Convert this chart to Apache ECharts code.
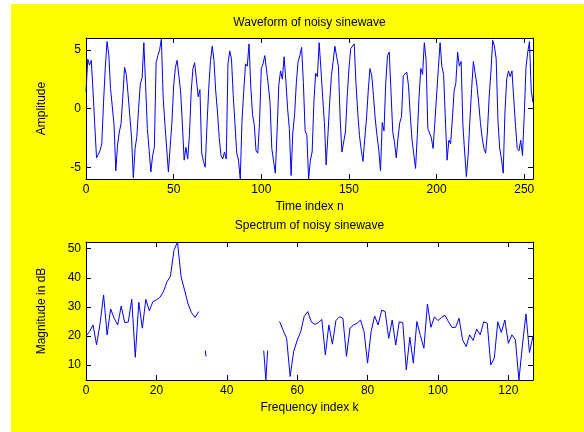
<!DOCTYPE html>
<html>
<head>
<meta charset="utf-8">
<script src="https://cdn.jsdelivr.net/npm/echarts@6/dist/echarts.min.js"></script>
<style>
html, body { margin: 0; padding: 0; background: #fff; }
#main { width: 584px; height: 432px; }
</style>
</head>
<body>
<div id="main"></div>
<script>
// noisy sinewave, one value per sample n = 0..255
var waveform = [
	1.4, 4.2, 3.7, 4.1, 1.5, -1.4, -4.2, -3.9, -3.6, -3.0,
	0.5, 3.5, 5.7, 4.6, 1.7, 1.6, -1.4, -5.3, -3.1, -2.0,
	-1.3, 1.0, 3.5, 2.9, 1.2, 1.2, -2.5, -5.9, -3.4, -2.4,
	0.0, 2.1, 2.6, 5.6, 2.0, -1.7, -3.5, -5.4, -4.0, -3.3,
	3.9, 4.5, 5.0, 5.9, 1.0, -1.3, -1.4, -5.4, -3.3, -1.2,
	1.9, 3.5, 4.1, 4.1, 1.4, -1.4, -4.4, -3.3, -4.3, -2.3,
	1.4, 3.4, 3.9, 3.9, 1.0, 1.6, -3.8, -4.5, -5.0, -1.5,
	1.7, 4.0, 5.3, 4.1, 1.5, -0.3, -2.5, -4.0, -4.3, -3.7,
	-4.3, 3.8, 4.9, 4.2, 1.1, 1.0, -3.8, -4.4, -6.0, -1.0,
	1.5, 3.8, 3.6, 5.5, 1.9, -0.5, -1.4, -3.6, -3.8, -1.2,
	3.4, 3.8, 4.5, 4.4, 2.0, 0.5, -3.4, -4.5, -5.5, -2.0,
	2.0, 3.2, 2.5, 4.4, 2.4, 0.0, -1.7, -5.7, -2.0, -0.5,
	2.2, 4.0, 4.5, 5.2, 2.2, -1.9, -2.3, -6.0, -4.4, -3.7,
	0.5, 3.0, 2.7, 5.6, 3.4, 1.0, -1.2, -4.8, -2.3, 0.5,
	2.8, 4.0, 5.3, 4.4, 3.6, -0.9, -3.7, -3.8, -2.0, 1.0,
	3.4, 5.1, 5.2, 5.5, 2.2, -0.3, -2.3, -3.5, -4.5, -2.6,
	-0.9, 1.5, 3.4, 2.8, 1.1, -0.9, -2.3, -3.5, -5.3, -1.2,
	-1.9, 2.2, 4.5, 4.8, 1.4, -2.0, -2.9, -4.2, -2.5, -1.2,
	-0.7, 2.8, 2.9, 3.1, 1.9, -0.6, -2.7, -2.7, -5.1, -2.3,
	1.0, 3.4, 2.9, 5.6, 4.2, -1.7, -1.7, -2.5, -3.4, -1.2,
	-1.1, 3.4, 5.6, 3.6, 2.9, -0.9, -4.4, -2.7, -3.0, -0.9,
	1.5, 2.2, 4.8, 3.6, 4.0, -1.4, -3.7, -5.8, -4.0, -1.0,
	1.7, 4.0, 3.0, 2.0, 0.5, -1.2, -2.5, -3.4, -3.8, -2.0,
	1.0, 3.1, 5.8, 5.3, 4.2, -1.0, -3.4, -4.3, -5.5, -0.3,
	2.5, 3.2, 2.7, 3.2, 3.1, -1.4, -3.4, -3.6, -2.7, -4.0,
	-0.6, 3.5, 4.8, 5.7, 1.5, 0.5
];

// spectrum magnitude (dB), k = 0..127, null where nothing is drawn
var magnitudeDb = [
	20.0, 21.5, 23.8, 17.0, 24.4, 34.1, 20.4, 29.3, 26.1, 23.8,
	30.3, 24.6, 24.8, 32.6, 12.7, 31.6, 22.7, 32.6, 28.7, 31.8,
	32.4, 33.3, 35.2, 38.6, 40.6, 49.5, 52.3, 40.4, 35.8, 31.0,
	28.0, 26.4, 28.4, null, null, null, null, null, null, null,
	null, null, null, null, null, null, null, null, null, null,
	null, null, null, null, null, 25.0, 22.0, 19.2, 6.1, 14.7,
	18.5, 21.5, 26.8, 28.4, 24.9, 24.0, 24.6, 25.7, 13.5, 23.8,
	17.2, 25.3, 26.6, 26.1, 13.0, 22.7, 23.8, 24.4, 25.5, 21.5,
	10.7, 21.5, 26.9, 23.8, 28.9, 28.4, 19.2, 25.5, 16.9, 24.9,
	24.6, 8.4, 19.6, 10.7, 25.0, 20.2, 15.8, 31.0, 23.0, 26.6,
	25.3, 26.4, 27.1, 24.9, 22.9, 23.0, 26.1, 18.7, 16.4, 20.4,
	18.5, 22.4, 20.4, 24.9, 24.4, 10.1, 12.4, 24.9, 21.2, 25.5,
	17.5, 20.4, 18.7, 4.9, 16.9, 27.6, 14.3, 20.0
];

// the small pieces left inside the gap of the spectrum
var fragmentK = [33.9, 34.1, 42, 50.5, 51.1, 51.6];
var fragmentDb = [15.0, 13.0, null, 15.0, 4.9, 15.0];

var timeTickStep = 50;
var freqTickStep = 20;

var font = 'Liberation Sans, Arial, sans-serif';

var waveData = waveform.map(function(v, i) { return [i, v]; });
var specData = magnitudeDb.map(function(v, i) { return [i, v]; });
var fragData = fragmentK.map(function(k, i) { return [k, fragmentDb[i]]; });

var allDb = magnitudeDb.concat(fragmentDb).filter(function(v) { return v !== null; });
var dbMin = Math.min.apply(null, allDb);
var dbMax = Math.max.apply(null, allDb);

var labelStyle = { color: '#000', fontSize: 12, fontFamily: font, margin: 5 };
var tickStyle = { show: true, inside: true, length: 5, lineStyle: { color: '#000', width: 1 } };
var lineAxis = { show: true, onZero: false, lineStyle: { color: '#000', width: 1 } };
var nameStyle = { color: '#000', fontSize: 12, fontFamily: font };

function xAx(grid, pos, max, step, name) {
	return {
		type: 'value', gridIndex: grid, position: pos, min: 0, max: max, interval: step,
		axisLine: lineAxis, axisTick: tickStyle, splitLine: { show: false },
		axisLabel: pos === 'bottom' ? Object.assign({ showMaxLabel: false }, labelStyle) : { show: false },
		name: name, nameLocation: 'middle', nameGap: 22, nameTextStyle: nameStyle
	};
}

function yAx(grid, pos, min, max, split, name) {
	return {
		type: 'value', gridIndex: grid, position: pos, min: min, max: max, splitNumber: split,
		axisLine: lineAxis, axisTick: tickStyle, splitLine: { show: false },
		axisLabel: pos === 'left' ? Object.assign({ showMinLabel: false, showMaxLabel: false }, labelStyle) : { show: false },
		name: name, nameLocation: 'middle', nameGap: 38, nameTextStyle: nameStyle
	};
}

var myChart = echarts.init(document.getElementById('main'));
var option = {
	animation: false,
	backgroundColor: '#fff',
	graphic: [
		{ type: 'rect', z: -10, silent: true, shape: { x: 11, y: 4, width: 573, height: 428 }, style: { fill: '#ffff00' } },
		{ type: 'text', x: 309.5, y: 23, silent: true, style: { text: 'Waveform of noisy sinewave', align: 'center', verticalAlign: 'middle', fill: '#000', font: '12px ' + font } },
		{ type: 'text', x: 309.5, y: 226, silent: true, style: { text: 'Spectrum of noisy sinewave', align: 'center', verticalAlign: 'middle', fill: '#000', font: '12px ' + font } }
	],
	grid: [
		{ left: 86, top: 38, width: 447, height: 141, show: true, backgroundColor: '#fff', borderWidth: 0 },
		{ left: 86, top: 242, width: 447, height: 138, show: true, backgroundColor: '#fff', borderWidth: 0 }
	],
	xAxis: [
		xAx(0, 'bottom', waveform.length - 1, timeTickStep, 'Time index n'),
		xAx(0, 'top', waveform.length - 1, timeTickStep, ''),
		xAx(1, 'bottom', magnitudeDb.length - 1, freqTickStep, 'Frequency index k'),
		xAx(1, 'top', magnitudeDb.length - 1, freqTickStep, '')
	],
	yAxis: [
		yAx(0, 'left', -6, 6, 2, 'Amplitude'),
		yAx(0, 'right', -6, 6, 2, ''),
		yAx(1, 'left', dbMin, dbMax, 5, 'Magnitude in dB'),
		yAx(1, 'right', dbMin, dbMax, 5, '')
	],
	series: [
		{ type: 'line', xAxisIndex: 0, yAxisIndex: 0, data: waveData, showSymbol: false, lineStyle: { color: '#0000ff', width: 1 } },
		{ type: 'line', xAxisIndex: 2, yAxisIndex: 2, data: specData, showSymbol: false, connectNulls: false, lineStyle: { color: '#0000ff', width: 1 } },
		{ type: 'line', xAxisIndex: 2, yAxisIndex: 2, data: fragData, showSymbol: false, connectNulls: false, lineStyle: { color: '#0000ff', width: 1 } }
	]
};
myChart.setOption(option);
</script>
</body>
</html>
